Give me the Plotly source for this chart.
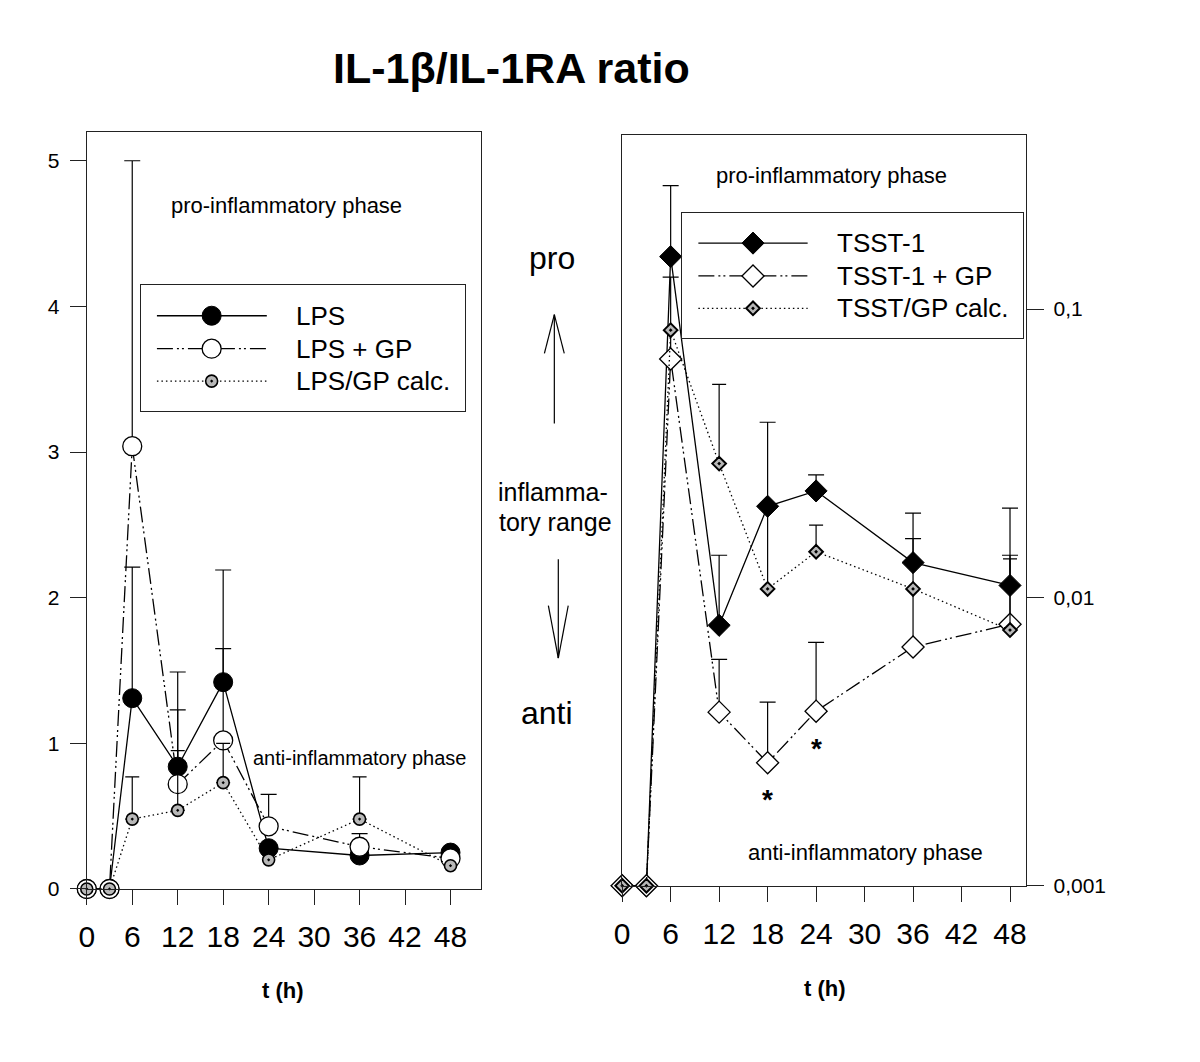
import math
import plotly.graph_objects as go

# ---------------- data ----------------
hours = [0, 3, 6, 12, 18, 24, 36, 48]
x_ticks = [0, 6, 12, 18, 24, 30, 36, 42, 48]

# left panel (linear ratio)
lps_names = ["LPS", "LPS + GP", "LPS/GP calc."]
lps = [0, 0, 1.31, 0.84, 1.42, 0.28, 0.23, 0.25]
lps_top = [None, None, 2.21, 1.49, 2.19, None, None, None]
lps_gp = [0, 0, 3.04, 0.72, 1.02, 0.43, 0.29, 0.21]
lps_gp_top = [None, None, 5.00, 1.23, 1.65, 0.65, 0.38, None]
lps_calc = [0, 0, 0.48, 0.54, 0.73, 0.20, 0.48, 0.16]
lps_calc_top = [None, None, 0.77, 0.95, 1.00, None, 0.77, None]
left_yticks = [0, 1, 2, 3, 4, 5]

# right panel (log ratio)
tsst_names = ["TSST-1", "TSST-1 + GP", "TSST/GP calc."]
tsst = [0.001, 0.001, 0.152, 0.0080, 0.0207, 0.0234, 0.0132, 0.0110]
tsst_top = [None, None, 0.268, 0.0140, 0.0405, 0.0266, 0.0196, 0.0204]
tsst_gp = [0.001, 0.001, 0.0671, 0.0040, 0.00267, 0.00403, 0.00673, 0.00807]
tsst_gp_top = [None, None, 0.129, 0.0061, 0.00433, 0.00698, 0.0160, 0.0140]
tsst_calc = [0.001, 0.001, 0.0845, 0.0291, 0.0107, 0.0144, 0.0107, 0.0077]
tsst_calc_top = [None, None, None, 0.0548, 0.0207, 0.0178, None, 0.0136]
sig_hours = [18, 24]          # significant points of TSST-1 + GP
right_yticks = [0.001, 0.01, 0.1]
right_yticktext = ["0,001", "0,01", "0,1"]

# ---------------- styling ----------------
W, H = 1200, 1062
FONT = "Arial, 'Liberation Sans', sans-serif"
GREY = "#b8b8b8"
AX = "#222222"
DASH_GP = "16px,4px,2px,3px,2px,4px"
DASH_CALC = "1.5px,3px"


def px(p):
    return p / W


def py(p):
    return 1 - p / H


def err_trace(x, y, top, xa, ya, capw):
    xs, ys, ep = [], [], []
    for xi, yi, ti in zip(x, y, top):
        if ti is not None:
            xs.append(xi)
            ys.append(yi)
            ep.append(ti - yi)
    return go.Scatter(
        x=xs, y=ys, mode="markers",
        marker=dict(size=1, color="rgba(0,0,0,0)"),
        error_y=dict(type="data", symmetric=False, array=ep,
                     arrayminus=[0] * len(ep), color="black",
                     thickness=1.2, width=capw),
        xaxis=xa, yaxis=ya, showlegend=False, hoverinfo="skip",
        cliponaxis=False)


def series(x, y, xa, ya, dash, symbol, size, fill, lw):
    return go.Scatter(
        x=x, y=y, mode="lines+markers",
        line=dict(color="black", width=1.3, dash=dash),
        marker=dict(symbol=symbol, size=size, color=fill,
                    line=dict(color="black", width=lw)),
        xaxis=xa, yaxis=ya, showlegend=False, cliponaxis=False)


styles_left = [
    ("solid", "circle", 19, "black", 1),
    (DASH_GP, "circle", 19, "white", 1.3),
    (DASH_CALC, "circle-dot", 12, GREY, 1.6),
]
styles_right = [
    ("solid", "diamond", 17, "black", 1),
    (DASH_GP, "diamond", 17, "white", 1.3),
    (DASH_CALC, "diamond-dot", 10.5, GREY, 2),
]

fig = go.Figure()

left_sets = [(lps, lps_top), (lps_gp, lps_gp_top), (lps_calc, lps_calc_top)]
for (vals, top), st in zip(left_sets, styles_left):
    fig.add_trace(err_trace(hours, vals, top, "x", "y", 7 if st[2] < 15 else 8))
    fig.add_trace(series(hours, vals, "x", "y", *st))

right_sets = [(tsst, tsst_top), (tsst_gp, tsst_gp_top), (tsst_calc, tsst_calc_top)]
for (vals, top), st in zip(right_sets, styles_right):
    fig.add_trace(err_trace(hours, vals, top, "x2", "y2", 7 if st[2] < 15 else 8))
    fig.add_trace(series(hours, vals, "x2", "y2", *st))

# ---------------- hand-made legends ----------------
annotations = []
leg_rows = [0.758, 0.496, 0.238]
for names, styles, xa, ya, lx0, lx1, mx, tx in [
    (lps_names, styles_left, "x3", "y3", 0.048, 0.388, 0.2173, 0.473),
    (tsst_names, styles_right, "x4", "y4", 0.0467, 0.3677, 0.2072, 0.4473),
]:
    for name, st, ry in zip(names, styles, leg_rows):
        dash, symbol, size, fill, lw = st
        fig.add_trace(go.Scatter(
            x=[lx0, lx1], y=[ry, ry], mode="lines",
            line=dict(color="black", width=1.3, dash=dash),
            xaxis=xa, yaxis=ya, showlegend=False, hoverinfo="skip"))
        fig.add_trace(go.Scatter(
            x=[mx], y=[ry], mode="markers",
            marker=dict(symbol=symbol, size=size, color=fill,
                        line=dict(color="black", width=lw)),
            xaxis=xa, yaxis=ya, showlegend=False, hoverinfo="skip"))
        annotations.append(dict(
            x=tx, y=ry, xref=xa, yref=ya, text=name, showarrow=False,
            xanchor="left", yanchor="middle",
            font=dict(family=FONT, size=26, color="black")))

# significance stars below TSST-1 + GP
for h in sig_hours:
    v = tsst_gp[hours.index(h)]
    annotations.append(dict(
        x=h, y=math.log10(v), xref="x2", yref="y2", text="<b>*</b>",
        showarrow=False, xanchor="center", yanchor="middle", yshift=-37,
        font=dict(family=FONT, size=28, color="black")))


def txt(x, y, s, size, bold=False):
    annotations.append(dict(
        x=px(x), y=py(y), xref="paper", yref="paper",
        text=("<b>%s</b>" % s) if bold else s, showarrow=False,
        xanchor="center", yanchor="middle",
        font=dict(family=FONT, size=size, color="black")))


txt(507, 69, "IL-1β/IL-1RA ratio", 43, bold=True)
txt(280, 208, "pro-inflammatory phase", 22)
txt(354, 766, "anti-inflammatory phase", 20)
txt(829, 177, "pro-inflammatory phase", 22)
txt(863, 861, "anti-inflammatory phase", 22)
txt(548, 261, "pro", 32)
txt(549, 497, "inflamma-", 25)
txt(551, 527, "tory range", 25)
txt(543, 720, "anti", 32)
txt(277, 1001, "t (h)", 22, bold=True)
txt(822, 999, "t (h)", 22, bold=True)

arrow_line = dict(color="black", width=1.2)
shapes = []
for x0, y0, x1, y1 in [
    (550, 428, 550, 318), (550, 318, 540, 357), (550, 318, 560, 357),
    (554, 565, 554, 665), (554, 665, 544, 612), (554, 665, 564, 612),
]:
    shapes.append(dict(type="line", xref="paper", yref="paper",
                       x0=px(x0), y0=py(y0), x1=px(x1), y1=py(y1),
                       line=arrow_line))

common = dict(showline=True, linecolor=AX, linewidth=1.2, mirror=True,
              showgrid=False, zeroline=False, ticks="outside",
              tickcolor=AX, tickwidth=1.2)
legend_ax = dict(showline=True, linecolor=AX, linewidth=1.2, mirror=True,
                 showgrid=False, zeroline=False, showticklabels=False,
                 ticks="", range=[0, 1], fixedrange=True)

fig.update_layout(
    width=W, height=H,
    margin=dict(l=0, r=0, t=0, b=0),
    paper_bgcolor="white", plot_bgcolor="white",
    font=dict(family=FONT, color="black"),
    showlegend=False,
    xaxis=dict(domain=[px(79.3), px(476)], range=[0, 52], tickvals=x_ticks,
               ticklen=15, tickfont=dict(size=30), ticklabelstandoff=6,
               anchor="y", **common),
    yaxis=dict(domain=[py(898.3), py(133)], range=[0, 5.2],
               tickvals=left_yticks, ticklen=16, tickfont=dict(size=21),
               ticklabelstandoff=6, anchor="x", **common),
    xaxis2=dict(domain=[px(618.3), px(1025)], range=[0, 50],
                tickvals=x_ticks, ticklen=15, tickfont=dict(size=30),
                ticklabelstandoff=6, anchor="y2", **common),
    yaxis2=dict(domain=[py(895), py(136)], type="log", range=[-3, -0.395],
                side="right", tickvals=right_yticks,
                ticktext=right_yticktext, ticklen=17,
                tickfont=dict(size=21), ticklabelstandoff=5, anchor="x2",
                **common),
    xaxis3=dict(domain=[px(134.3), px(459.7)], anchor="y3", **legend_ax),
    yaxis3=dict(domain=[py(415.3), py(288.3)], anchor="x3", **legend_ax),
    xaxis4=dict(domain=[px(679), px(1021.7)], anchor="y4", **legend_ax),
    yaxis4=dict(domain=[py(341.7), py(215)], anchor="x4", **legend_ax),
    annotations=annotations,
    shapes=shapes,
)

fig.write_html(
    "out.html",
    config={"displayModeBar": False},
    post_script="document.body.style.margin='0px';"
                "document.body.style.overflow='hidden';",
)
